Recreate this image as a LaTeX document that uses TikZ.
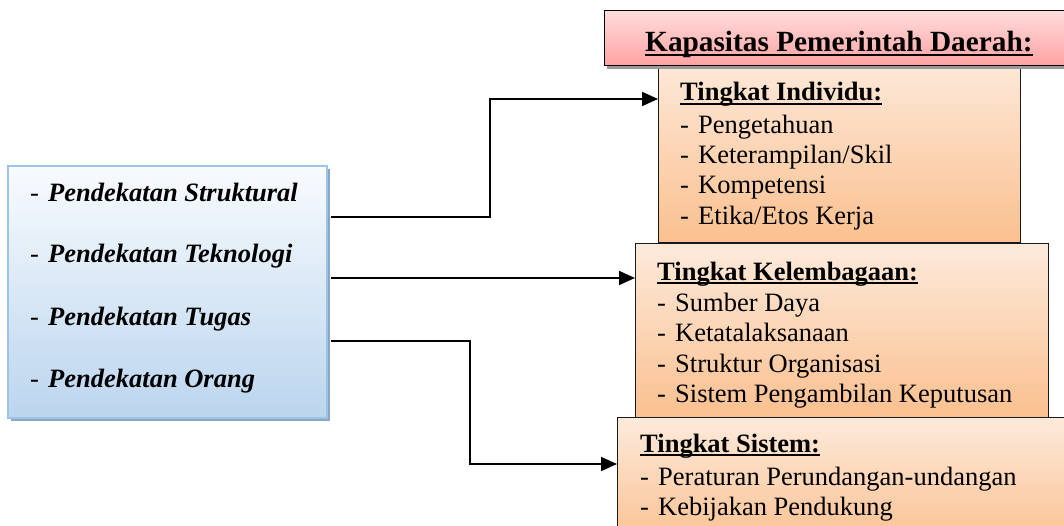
\documentclass[tikz,border=0pt]{standalone}
\usepackage{fontspec}
\setmainfont{Liberation Serif}
\usetikzlibrary{arrows.meta,shadows}

\definecolor{bluetop}{HTML}{F8FBFE}
\definecolor{bluebot}{HTML}{BBD5EE}
\definecolor{blueedge}{HTML}{9DC3E6}
\definecolor{blueshadow}{HTML}{8CA7C2}
\definecolor{pinktop}{HTML}{FFDCDC}
\definecolor{pinkbot}{HTML}{FFA2A2}
\definecolor{peachtop}{HTML}{FDEADB}
\definecolor{peachbot}{HTML}{FAC08F}

% bold heading with a close underline (descenders cross it)
\newcommand{\ulhead}[1]{\setbox0\hbox{\bfseries #1}\rlap{\rule[-4pt]{\wd0}{1.8pt}}\box0}
\newcommand{\dashitem}[1]{\makebox[18pt][l]{-}#1}

\begin{document}
\begin{tikzpicture}[x=1pt,y=-1pt,
  panel/.style={rectangle, draw=black!90, line width=1.3pt, top color=peachtop,
    bottom color=peachbot, inner sep=0pt, anchor=north west},
  item/.style={anchor=base west, inner sep=0pt, font=\fontsize{26.5}{30}\selectfont},
  arr/.style={line width=1.8pt, -{Triangle[length=16pt,width=14pt]}}]
\useasboundingbox (0,0) rectangle (1064,526);
\begin{scope}
\clip (0,0) rectangle (1064,526);

% approaches box
\node[rectangle, draw=blueedge, line width=2.2pt, top color=bluetop, bottom color=bluebot,
  inner sep=0pt, anchor=north west, minimum width=319pt, minimum height=252pt,
  general shadow={shadow xshift=3pt, shadow yshift=-3pt, fill=blueshadow}]
  (lb) at (7,165) {};
\foreach \n/\t/\y in {s1/Struktural/202, s2/Teknologi/263, s3/Tugas/325, s4/Orang/387}
  \node[item] (\n) at (30,\y) {\dashitem{\textbf{\textit{Pendekatan \t}}}};

% capacity levels
\node[panel, minimum width=362pt, minimum height=187pt] (ind) at (658,55) {};
\node[panel, minimum width=413pt, minimum height=174pt] (kel) at (635,243) {};
\node[panel, minimum width=460pt, minimum height=130pt] (sis) at (617,417) {};

% heading box
\node[rectangle, draw=black, line width=1.3pt, top color=pinktop, bottom color=pinkbot,
  inner sep=0pt, anchor=north west, minimum width=470pt, minimum height=55pt,
  general shadow={shadow xshift=2pt, shadow yshift=-3pt, fill=black!40}]
  (head) at (604,10) {};
\node[anchor=base west, inner sep=0pt, font=\fontsize{29.3}{32}\selectfont] (headt) at (645,52)
  {\ulhead{Kapasitas Pemerintah Daerah:}};

\node[item] (indt) at (680,101) {\ulhead{Tingkat Individu:}};
\foreach \n/\t/\y in {i1/Pengetahuan/134, i2/Keterampilan\slash Skil/164,
    i3/Kompetensi/194, i4/Etika\slash Etos Kerja/225}
  \node[item] (\n) at (680,\y) {\dashitem{\t}};

\node[item] (kelt) at (657,280) {\ulhead{Tingkat Kelembagaan:}};
\foreach \n/\t/\y in {k1/Sumber Daya/311, k2/Ketatalaksanaan/341,
    k3/Struktur Organisasi/372, k4/Sistem Pengambilan Keputusan/402}
  \node[item] (\n) at (657,\y) {\dashitem{\t}};

\node[item] (sist) at (640,452) {\ulhead{Tingkat Sistem:}};
\foreach \n/\t/\y in {p1/Peraturan Perundangan-undangan/485, p2/Kebijakan Pendukung/515}
  \node[item] (\n) at (640,\y) {\dashitem{\t}};

% connectors
\draw[arr] ([xshift=3pt,yshift=-52pt]lb.north east) -- ++(159,0)
  |- ([yshift=-44pt]ind.north west);
\draw[arr] ([xshift=3pt,yshift=-113pt]lb.north east) -- ([yshift=-35pt]kel.north west);
\draw[arr] ([xshift=3pt,yshift=-176pt]lb.north east) -- ++(139,0)
  |- ([yshift=-47pt]sis.north west);
\end{scope}
\end{tikzpicture}
\end{document}
